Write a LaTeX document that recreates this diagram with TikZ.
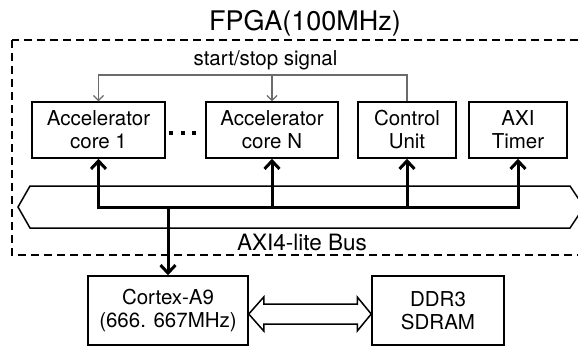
\documentclass[tikz,border=0pt]{standalone}
\usepackage{fontspec}
\setmainfont{TeX Gyre Heros}
\usetikzlibrary{calc}
\usetikzlibrary{arrows.meta}
\definecolor{siggray}{gray}{0.42}
\tikzstyle{every node}=[font=\fontsize{20.5}{23}\selectfont]
\tikzstyle{every path}=[line join=miter]

\begin{document}
\begin{tikzpicture}[x=1pt,y=-1pt]
	\tikzstyle{block} = [draw,line width=1.5pt,inner sep=0pt,align=center,minimum height=56pt]
	\tikzstyle{busarrow} = [line width=3pt,-{Straight Barb[length=8pt,width=15pt]}]
	\tikzstyle{sigarrow} = [siggray,line width=1.2pt,-{Straight Barb[length=5pt,width=10pt]}]
	\useasboundingbox (0,0) rectangle (578,346);
	
	% FPGA region and bus
	\draw[line width=1.3pt,dash pattern=on 8pt off 5pt] (12,40) rectangle (600,255);
	\node[anchor=base] (fpga) at (305,30) {\fontsize{27}{30}\selectfont FPGA(100MHz)};
	\draw[line width=1.5pt] (30,186) -- (570,186) -- (584,207) -- (570,228) -- (30,228) -- (18,207) -- cycle;
	\node[anchor=base] (buslabel) at (302,250) {\fontsize{22.5}{25}\selectfont AXI4-lite Bus};
	
	\node[block,minimum width=133pt] (core1) at (98.5,130) {Accelerator\\core 1};
	\node[block,minimum width=132pt] (coreN) at (272,130) {Accelerator\\core N};
	\node[block,minimum width=98pt] (ctrl) at (407,130) {Control\\Unit};
	\node[block,minimum width=98pt] (timer) at (518,130) {AXI\\Timer};
	\node[block,minimum width=160pt,minimum height=69pt] (cortex) at (168,310.5) {Cortex-A9\\(666. 667MHz)};
	\node[block,minimum width=132pt,minimum height=69pt] (ddr) at (438,310.5) {DDR3\\SDRAM};
	
	\foreach \dx in {171,182.5,194} \fill (\dx-2,131) rectangle (\dx+2,135);
	
	% start/stop lines
	\coordinate (sigy) at (0,75);
	\node[anchor=base] (siglabel) at (265.5,65) {start/stop signal};
	\draw[sigarrow] (ctrl.north) -- (ctrl |- sigy) -- (core1 |- sigy) -- (core1.north);
	\draw[sigarrow] (coreN |- sigy) -- (coreN.north);
	
	% AXI connections
	\coordinate (busy) at (0,207);
	\draw[line width=3pt,line cap=rect] (core1 |- busy) -- (timer |- busy);
	\foreach \n in {core1,coreN,ctrl,timer} \draw[busarrow] (\n |- busy) -- (\n.south);
	\draw[busarrow] (cortex |- busy) -- (cortex.north);
	
	% memory link
	\coordinate (tipL) at ($(cortex.east)+(0,3.5)$);
	\coordinate (tipR) at ($(ddr.west)+(0,3.5)$);
	\draw[line width=1.5pt] (tipL) -- ++(15,-17) -- ++(0,7) -- ($(tipR)+(-14,-10)$) -- ++(0,-7) -- (tipR)
		-- ++(-14,17) -- ++(0,-7) -- ($(tipL)+(15,10)$) -- ++(0,7) -- cycle;
	
\end{tikzpicture}
\end{document}
